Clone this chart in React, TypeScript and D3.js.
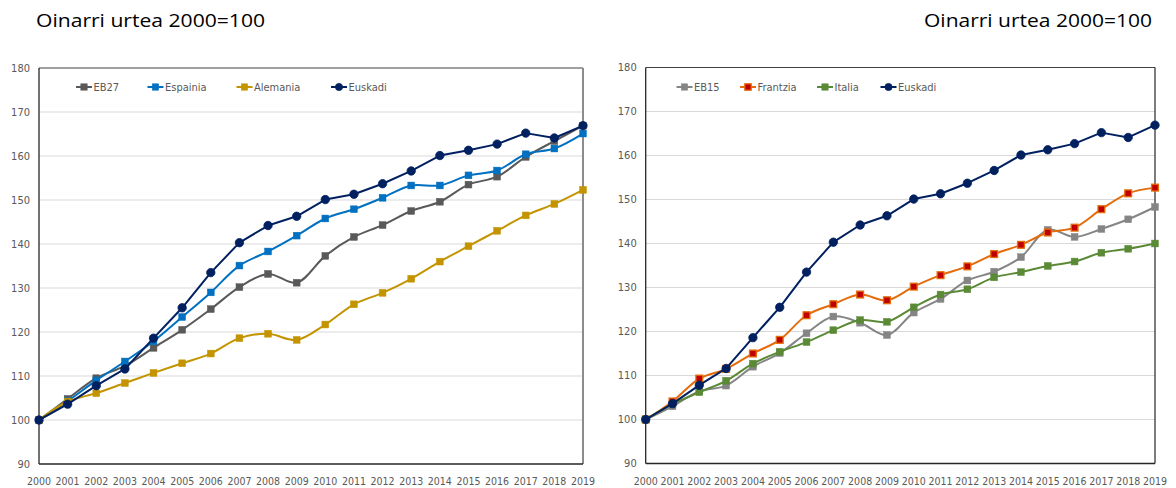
import React from "react";
import * as d3 from "d3";

const years = [2000, 2001, 2002, 2003, 2004, 2005, 2006, 2007, 2008, 2009, 2010, 2011, 2012, 2013, 2014, 2015, 2016, 2017, 2018, 2019];
const yTicks = [90, 100, 110, 120, 130, 140, 150, 160, 170, 180];
const titleText = "Oinarri urtea 2000=100";

const euskadi = [100, 103.6, 107.8, 111.6, 118.6, 125.5, 133.5, 140.3, 144.2, 146.3, 150.1, 151.3, 153.7, 156.6, 160.1, 161.3, 162.7, 165.2, 164.1, 166.9];
const eb27 = [100, 104.8, 109.5, 112.3, 116.4, 120.5, 125.2, 130.2, 133.2, 131.2, 137.3, 141.6, 144.3, 147.5, 149.6, 153.5, 155.3, 159.8, 163.4, 166.9];
const espainia = [100, 104.3, 109.0, 113.3, 117.9, 123.4, 129.0, 135.1, 138.3, 141.9, 145.8, 147.9, 150.5, 153.3, 153.3, 155.6, 156.7, 160.4, 161.7, 165.1];
const alemania = [100, 104.2, 106.1, 108.4, 110.7, 112.9, 115.1, 118.6, 119.6, 118.2, 121.7, 126.3, 128.9, 132.1, 136.0, 139.5, 143.0, 146.5, 149.1, 152.3];
const eb15 = [100, 103.0, 106.4, 107.7, 112.0, 115.1, 119.6, 123.4, 122.0, 119.2, 124.3, 127.4, 131.6, 133.6, 136.9, 143.1, 141.5, 143.3, 145.5, 148.3];
const frantzia = [100, 104.1, 109.3, 111.5, 115.0, 118.1, 123.7, 126.2, 128.4, 127.1, 130.2, 132.8, 134.8, 137.6, 139.7, 142.5, 143.6, 147.8, 151.4, 152.7];
const italia = [100, 103.5, 106.2, 108.8, 112.7, 115.4, 117.6, 120.3, 122.6, 122.2, 125.5, 128.4, 129.6, 132.3, 133.5, 134.9, 135.9, 137.9, 138.8, 140.0];

type Series = { name: string; values: number[]; line: string; fill: string; stroke: string; marker: "square" | "circle"; smooth: boolean };

const leftSeries: Series[] = [
  { name: "EB27", values: eb27, line: "#595959", fill: "#595959", stroke: "#595959", marker: "square", smooth: true },
  { name: "Espainia", values: espainia, line: "#0070C0", fill: "#0070C0", stroke: "#0070C0", marker: "square", smooth: true },
  { name: "Alemania", values: alemania, line: "#C49400", fill: "#C49400", stroke: "#C49400", marker: "square", smooth: true },
  { name: "Euskadi", values: euskadi, line: "#002060", fill: "#002060", stroke: "#002060", marker: "circle", smooth: false },
];
const rightSeries: Series[] = [
  { name: "EB15", values: eb15, line: "#858585", fill: "#858585", stroke: "#858585", marker: "square", smooth: true },
  { name: "Frantzia", values: frantzia, line: "#E46C0A", fill: "#C00000", stroke: "#E46C0A", marker: "square", smooth: true },
  { name: "Italia", values: italia, line: "#5A8A36", fill: "#5A8A36", stroke: "#5A8A36", marker: "square", smooth: true },
  { name: "Euskadi", values: euskadi, line: "#002060", fill: "#002060", stroke: "#002060", marker: "circle", smooth: false },
];

const FONT = "'Liberation Sans Narrow', 'DejaVu Sans Condensed', Roboto, sans-serif";

type PanelProps = {
  x0: number; x1: number; yTop: number; yBot: number;
  series: Series[]; legendX: number[]; rightBorder: string; rightBorderW: number;
};

function Marker({ s, cx, cy, legend }: { s: Series; cx: number; cy: number; legend?: boolean }) {
  if (s.marker === "circle") return <circle cx={cx} cy={cy} r={legend ? 3.6 : 4.2} fill={s.fill} stroke={s.stroke} strokeWidth={0.8} />;
  const h = legend ? 3.2 : 3.4;
  return <rect x={cx - h} y={cy - h} width={2 * h} height={2 * h} fill={s.fill} stroke={s.stroke} strokeWidth={s.fill !== s.stroke ? 1.3 : 0.5} />;
}

function Panel({ x0, x1, yTop, yBot, series, legendX, rightBorder, rightBorderW }: PanelProps) {
  const x = d3.scaleLinear().domain([2000, 2019]).range([x0, x1]);
  const y = d3.scaleLinear().domain([90, 180]).range([yBot, yTop]);
  const legendY = 87;
  return (
    <g>
      {yTicks.map((t) => (
        <g key={t}>
          {t > 90 && t < 180 && <line x1={x0} x2={x1} y1={y(t)} y2={y(t)} stroke="#D9D9D9" strokeWidth={1} />}
          <text x={x0 - 9} y={y(t)} dy="0.35em" textAnchor="end" fontSize={11} fill="#595959" fontFamily={FONT}>{t}</text>
        </g>
      ))}
      <line x1={x0} x2={x1} y1={yTop} y2={yTop} stroke="#404040" strokeWidth={1} />
      <line x1={x1} x2={x1} y1={yTop} y2={yBot} stroke={rightBorder} strokeWidth={rightBorderW} />
      <line x1={x0} x2={x0} y1={yTop} y2={yBot} stroke="#262626" strokeWidth={1.3} />
      <line x1={x0} x2={x1} y1={yBot} y2={yBot} stroke="#262626" strokeWidth={1.6} />
      {years.map((yr) => (
        <text key={yr} x={x(yr)} y={481} dy="0.35em" textAnchor="middle" fontSize={10.5} fill="#595959" fontFamily={FONT}>{yr}</text>
      ))}
      {series.map((s) => {
        const gen = d3.line<number>().x((_, i) => x(years[i])).y((v) => y(v)).curve(s.smooth ? d3.curveCatmullRom.alpha(0.5) : d3.curveLinear);
        return (
          <g key={s.name}>
            <path d={gen(s.values) || ""} fill="none" stroke={s.line} strokeWidth={2} strokeLinejoin="round" />
            {s.values.map((v, i) => <Marker key={i} s={s} cx={x(years[i])} cy={y(v)} />)}
          </g>
        );
      })}
      {series.map((s, i) => (
        <g key={"lg" + s.name}>
          <line x1={legendX[i]} x2={legendX[i] + 16} y1={legendY} y2={legendY} stroke={s.line} strokeWidth={2} />
          <Marker s={s} cx={legendX[i] + 8} cy={legendY} legend />
          <text x={legendX[i] + 17.5} y={legendY} dy="0.35em" fontSize={11} fill="#595959" fontFamily={FONT}>{s.name}</text>
        </g>
      ))}
    </g>
  );
}

export default function App() {
  return (
    <svg width={1176} height={488} style={{ position: "absolute", left: 0, top: 0, background: "#fff" }}>
      <rect width={1176} height={488} fill="#fff" />
      <text x={36} y={27} fontSize={19} fontFamily="'Open Sans', Calibri, sans-serif" fill="#000" textLength={229} lengthAdjust="spacingAndGlyphs">{titleText}</text>
      <text x={924} y={27} fontSize={19} fontFamily="'Open Sans', Calibri, sans-serif" fill="#000" textLength={228} lengthAdjust="spacingAndGlyphs">{titleText}</text>
      <Panel x0={39} x1={583} yTop={68} yBot={464} series={leftSeries} legendX={[76, 147.5, 236.5, 331]} rightBorder="#8C8C8C" rightBorderW={2} />
      <Panel x0={645.7} x1={1155} yTop={67.5} yBot={463.5} series={rightSeries} legendX={[676.5, 740, 817, 880.5]} rightBorder="#262626" rightBorderW={1.2} />
    </svg>
  );
}
